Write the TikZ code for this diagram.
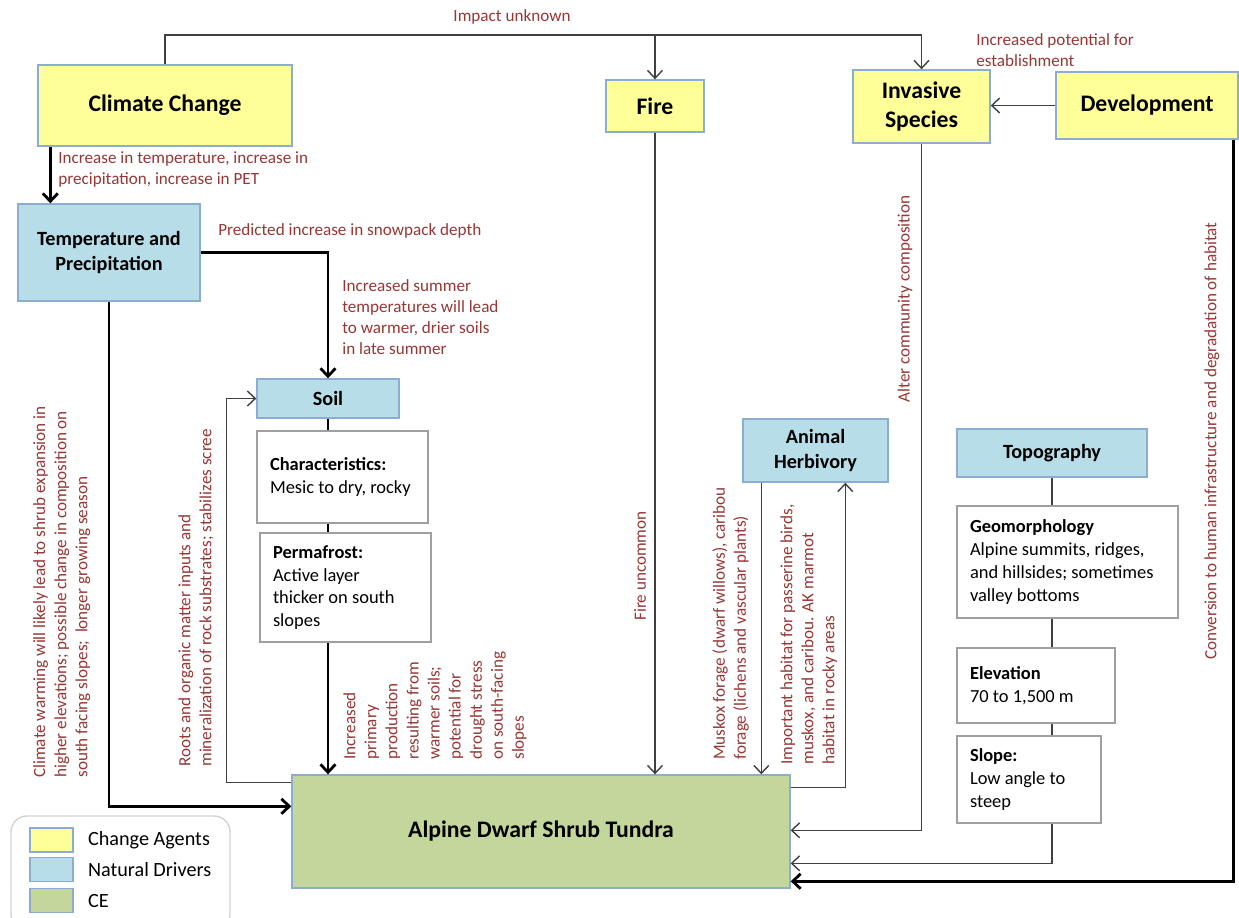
\documentclass[tikz,border=0pt]{standalone}
\usepackage{fontspec}
\setmainfont{Carlito}
\usepackage{xcolor}
\usepackage{tikz}
\usetikzlibrary{arrows.meta,positioning,calc}

\definecolor{agentyellow}{RGB}{255,255,153}
\definecolor{driverblue}{RGB}{183,222,232}
\definecolor{cegreen}{RGB}{195,214,155}
\definecolor{boxedge}{RGB}{140,172,210}
\definecolor{labred}{RGB}{149,55,53}
\definecolor{wiregray}{RGB}{64,64,64}

\begin{document}
\begin{tikzpicture}[
  x = 0.02cm, y = -0.02cm,
  agent/.style  = {draw=boxedge, fill=agentyellow, line width=0.8pt,
                   font=\fontsize{13.5}{16.5}\selectfont\bfseries,
                   align=center, inner sep=2pt},
  driver/.style = {draw=boxedge, fill=driverblue, line width=0.8pt,
                   font=\fontsize{11.5}{14.2}\selectfont\bfseries,
                   align=center, inner sep=2pt},
  info/.style   = {draw=gray!75, fill=white, line width=0.8pt,
                   font=\fontsize{10.5}{13}\selectfont,
                   align=left, inner xsep=0.26cm, inner ysep=0pt,
                   execute at begin node=\spaceskip0pt\xspaceskip0pt\relax},
  labl/.style   = {text=labred, font=\fontsize{9.75}{12}\selectfont,
                   align=left, inner sep=0pt},
  legtext/.style= {font=\fontsize{11.5}{14}\selectfont, inner sep=0pt, right=2.8mm of #1},
  swatch/.style = {draw=boxedge, fill=#1, line width=0.8pt,
                   minimum width=0.86cm, minimum height=0.48cm, inner sep=0pt},
  arr/.style    = {draw=wiregray, line width=0.8pt,
                   -{Straight Barb[length=4.5pt,width=8.5pt]}},
  tarr/.style   = {line width=1.6pt, -{Straight Barb[length=4.5pt,width=8.5pt]}},
  link/.style   = {draw=wiregray, line width=0.8pt},
  tlink/.style  = {line width=1.6pt},
]
\useasboundingbox (0,0) rectangle (1239,917);

%% ── CHANGE AGENTS ───────────────────────────────────────────────────────
\node[agent, minimum width=5.08cm, minimum height=1.62cm] (climate) at (165,105.5) {Climate Change};
\node[agent, minimum width=1.96cm, minimum height=1.04cm] (fire)    at (655,106)   {Fire};
\node[agent, minimum width=2.74cm, minimum height=1.46cm] (invasive) at (921.5,106.5) {Invasive\\Species};
\node[agent, minimum width=3.64cm, minimum height=1.34cm] (develop) at (1147,105.5) {Development};

%% ── NATURAL DRIVERS ─────────────────────────────────────────────────────
\node[driver, minimum width=3.64cm, minimum height=1.94cm] (temp)  at (109,252.5) {Temperature and\\Precipitation};
\node[driver, minimum width=2.84cm, minimum height=0.78cm] (soil)  at (328,398.5) {Soil};
\node[driver, minimum width=2.9cm,  minimum height=1.26cm] (herbiv) at (815.5,450.5) {Animal\\Herbivory};
\node[driver, minimum width=3.8cm,  minimum height=0.96cm] (topo)  at (1052,453)   {Topography};

%% soil and topography attributes
\node[info, text width=2.9cm,  minimum height=1.84cm] (soilchar)  at (342.5,477)  {\textbf{Characteristics:}\\Mesic to dry, rocky};
\node[info, text width=2.9cm,  minimum height=2.18cm] (permafrost) at (345.5,587.5) {\textbf{Permafrost:}\\Active layer\\thicker on south\\slopes};
\node[info, text width=3.9cm,  minimum height=2.24cm] (geomorph)  at (1067.5,562) {\textbf{Geomorphology}\\Alpine summits, ridges,\\and hillsides; sometimes\\valley bottoms};
\node[info, text width=2.64cm, minimum height=1.5cm]  (elevation) at (1036,685.5) {\textbf{Elevation}\\70 to 1,500 m};
\node[info, text width=2.36cm, minimum height=1.74cm] (slope)     at (1029,779.5) {\textbf{Slope:}\\Low angle to\\steep};

%% ── CONSERVATION ELEMENT ────────────────────────────────────────────────
\node[draw=boxedge, fill=cegreen, line width=0.8pt, minimum width=9.96cm, minimum height=2.26cm,
      font=\fontsize{13.5}{16.5}\selectfont\bfseries] (tundra) at (541,831.5) {Alpine Dwarf Shrub Tundra};

%% ── TOP LOOP: climate change to fire and invasives ──────────────────────
\coordinate (impact) at (921.5,35);
\draw[arr] (climate.north) |- (impact) -- (invasive.north);
\draw[arr] (fire.north |- impact) -- (fire.north);
\node[labl] (limpact) at (512,17) {Impact unknown};

\draw[arr] (develop.west) -- (develop.west -| invasive.east);
\node[labl, anchor=north west] (lestab) at (976,33) {Increased potential for\\establishment};

%% ── CLIMATE BRANCH ──────────────────────────────────────────────────────
\draw[tarr] ([xshift=2.6mm]climate.south west) -- ([xshift=2.6mm]climate.south west |- temp.north);
\node[labl, anchor=north west] (ltemp) at (58,151) {Increase in temperature, increase in\\precipitation, increase in PET};

\draw[tarr] (temp.east) -| (soil.north);
\node[labl, anchor=west] (lsnow) at (218,231) {Predicted increase in snowpack depth};
\node[labl, anchor=north west] (lsummer) at (342,279) {Increased summer\\temperatures will lead\\to warmer, drier soils\\in late summer};

\draw[tarr] (temp.south) |- ([yshift=-6.4mm]tundra.north west);
\node[labl, rotate=90, anchor=north west] (lwarm) at (33,778)
  {Climate warming will likely lead to shrub expansion in\\higher elevations; possible change in composition on\\south facing slopes;\ \ longer growing season};

%% ── SOIL COLUMN ─────────────────────────────────────────────────────────
\draw[tlink] (soil.south) -- (soil.south |- soilchar.north);
\draw[tlink] (soil.south |- soilchar.south) -- (soil.south |- permafrost.north);
\draw[tarr]  (soil.south |- permafrost.south) -- (soil.south |- tundra.north);
\node[labl, rotate=90, anchor=north west] (lprod) at (343,760)
  {Increased\\primary\\production\\resulting from\\warmer soils;\\potential for\\drought stress\\on south-facing\\slopes};

\draw[arr] ([yshift=-1.6mm]tundra.north west) -- ++(-65,0) |- (soil.west);
\node[labl, rotate=90, anchor=north west] (lroots) at (178,767)
  {Roots and organic matter inputs and\\mineralization of rock substrates; stabilizes scree};

%% ── FIRE AND HERBIVORY ──────────────────────────────────────────────────
\draw[arr] (fire.south) -- (fire.south |- tundra.north);
\node[labl, rotate=90] (lfire) at (640,566) {Fire uncommon};

\draw[arr] ([xshift=3.8mm]herbiv.south west) -- ([xshift=3.8mm]herbiv.south west |- tundra.north);
\node[labl, rotate=90, anchor=north west] (lforage) at (712,760)
  {Muskox forage (dwarf willows), caribou\\forage (lichens and vascular plants)};

\draw[arr] ([yshift=-2.6mm]tundra.north east) -| ([xshift=20.6mm]herbiv.south west);
\node[labl, rotate=90, anchor=north west] (lhabitat) at (780,765)
  {Important habitat for passerine birds,\\muskox, and caribou. AK marmot\\habitat in rocky areas};

%% ── RIGHT SIDE INPUTS ───────────────────────────────────────────────────
\draw[arr] (invasive.south) |- ([yshift=-11.2mm]tundra.north east);
\node[labl, rotate=90] (lalter) at (905,299) {Alter community composition};

\draw[link] (topo.south) -- (topo.south |- geomorph.north);
\draw[link] (topo.south |- geomorph.south) -- (topo.south |- elevation.north);
\draw[link] (topo.south |- elevation.south) -- (topo.south |- slope.north);
\draw[arr]  (topo.south |- slope.south) |- ([yshift=-17.8mm]tundra.north east);

\draw[tarr] ([xshift=-1mm]develop.south east) |- ([yshift=-21.4mm]tundra.north east);
\node[labl, rotate=90] (lconvert) at (1212,441) {Conversion to human infrastructure and degradation of habitat};

%% ── LEGEND ──────────────────────────────────────────────────────────────
\node[draw=gray!35, rounded corners=9pt, line width=0.8pt,
      minimum width=4.38cm, minimum height=2.28cm] (legend) at (120.5,873) {};
\node[swatch=agentyellow] (swagent)  at (51.5,840)   {};
\node[swatch=driverblue]  (swdriver) at (51.5,869.5) {};
\node[swatch=cegreen]     (swce)     at (51.5,900.5) {};
\node[legtext=swagent]  {Change Agents};
\node[legtext=swdriver] {Natural Drivers};
\node[legtext=swce]     {CE};

\end{tikzpicture}
\end{document}
